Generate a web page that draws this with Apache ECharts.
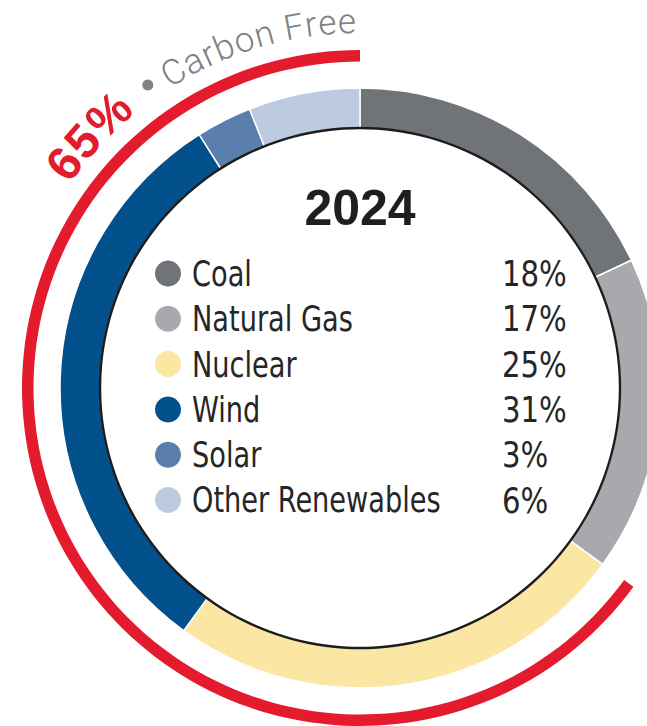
<!DOCTYPE html>
<html>
<head>
<meta charset="utf-8">
<title>2024 Generation Mix</title>
<script src="https://cdn.jsdelivr.net/npm/echarts@6/dist/echarts.min.js"></script>
<style>
  html, body { margin: 0; padding: 0; background: #ffffff; }
  #chart { width: 647px; height: 726px; }
</style>
</head>
<body>
<div id="chart"></div>
<script>
// Generation sources, clockwise from 12 o'clock
const sources = ['Coal', 'Natural Gas', 'Nuclear', 'Wind', 'Solar', 'Other Renewables'];
const shares = [18, 17, 25, 31, 3, 6];
const sourceColors = ['#707378', '#a7a9ac', '#fbe6a4', '#02508c', '#5b7fad', '#bdcbe0'];
const carbonFreeSources = ['Nuclear', 'Wind', 'Solar', 'Other Renewables'];
const yearLabel = '2024';
const captionText = 'Carbon Free';

const carbonFree = sources.reduce((s, name, i) =>
  carbonFreeSources.includes(name) ? s + shares[i] : s, 0);
const total = shares.reduce((a, b) => a + b, 0);

const CX = 360, CY = 388;
const RING = [260, 300];
const OUTLINE = [258.8, 261.2];
const ARC = [326.5, 338];
const CAPTION_R = 354;          // baseline radius of the curved caption

const condensed = '"DejaVu Sans Condensed", "DejaVu Sans", sans-serif';
const textColor = '#262626';
const red = '#e31b2d';
const grey = '#7f8184';
const DEG = Math.PI / 180;

const measureCtx = document.createElement('canvas').getContext('2d');
function measure(ch, font) { measureCtx.font = font; return measureCtx.measureText(ch).width; }

// Lay a string along the circle, from startDeg to endDeg (clockwise from top).
// If endDeg is given, the letter spacing is stretched to fill the span.
function arcText(text, font, size, color, startDeg, endDeg, spacing) {
  const chars = [...text];
  const widths = chars.map(ch => measure(ch, font));
  const raw = widths.reduce((a, b) => a + b, 0);
  let gap = spacing || 0;
  if (endDeg !== undefined) {
    gap = ((endDeg - startDeg) * DEG * CAPTION_R - raw) / (chars.length - 1);
  }
  let a = startDeg * DEG;
  const r = CAPTION_R + size * 0.36;
  return chars.map((ch, i) => {
    const mid = a + widths[i] / 2 / CAPTION_R;
    a += (widths[i] + gap) / CAPTION_R;
    return {
      type: 'text', silent: true,
      x: CX + r * Math.sin(mid), y: CY - r * Math.cos(mid),
      rotation: -mid,
      style: { text: ch, font, fill: color, align: 'center', verticalAlign: 'middle' }
    };
  });
}

function polar(deg, r) {
  return [CX + r * Math.sin(deg * DEG), CY - r * Math.cos(deg * DEG)];
}

const bulletPos = polar(-35, 370);
const captionGraphics = [
  ...arcText(carbonFree + '%', 'bold 48px "Liberation Sans", sans-serif', 48, red, -55, undefined, 1),
  { type: 'circle', silent: true, x: bulletPos[0], y: bulletPos[1],
    shape: { r: 5.5 }, style: { fill: grey } },
  ...arcText(captionText, '300 35px Roboto, sans-serif', 35, grey, -32.4, -0.6)
];

// Key: dot, source name and share, one row per source
const ROW0 = 273.5, ROW_STEP = 45.3;
const keyGraphics = [];
sources.forEach((name, i) => {
  const y = ROW0 + i * ROW_STEP;
  keyGraphics.push(
    { type: 'circle', silent: true, x: 168, y, shape: { r: 13 },
      style: { fill: sourceColors[i] } },
    { type: 'text', silent: true, x: 192, y, scaleX: 0.84,
      style: { text: name, font: '36px ' + condensed, fill: textColor,
               align: 'left', verticalAlign: 'middle' } },
    { type: 'text', silent: true, x: 502, y, scaleX: 0.9,
      style: { text: shares[i] + '%', font: '36px ' + condensed, fill: textColor,
               align: 'left', verticalAlign: 'middle' } }
  );
});

const chart = echarts.init(document.getElementById('chart'), null, { renderer: 'svg' });

chart.setOption({
  animation: false,
  backgroundColor: '#ffffff',
  series: [
    {
      name: 'Generation',
      type: 'pie',
      center: [CX, CY],
      radius: RING,
      startAngle: 90,
      clockwise: true,
      silent: true,
      label: { show: false },
      labelLine: { show: false },
      itemStyle: { borderColor: '#ffffff', borderWidth: 1.5 },
      data: sources.map((name, i) => ({
        name, value: shares[i], itemStyle: { color: sourceColors[i] }
      }))
    },
    {
      name: 'Outline',
      type: 'pie',
      center: [CX, CY],
      radius: OUTLINE,
      silent: true,
      label: { show: false },
      labelLine: { show: false },
      data: [{ name: 'ring', value: 1, itemStyle: { color: '#1c1c1c' } }]
    },
    {
      name: 'Carbon Free',
      type: 'pie',
      center: [CX, CY],
      radius: ARC,
      startAngle: 90,
      clockwise: false,
      silent: true,
      label: { show: false },
      labelLine: { show: false },
      data: [
        { name: 'carbon-free', value: carbonFree, itemStyle: { color: red } },
        { name: 'emitting', value: total - carbonFree, itemStyle: { color: 'rgba(0,0,0,0)' } }
      ]
    }
  ],
  graphic: [
    {
      type: 'text', silent: true,
      x: CX, y: 208,
      style: { text: yearLabel, font: 'bold 50px "Liberation Sans", sans-serif',
               fill: '#1f1f1f', align: 'center', verticalAlign: 'middle' }
    },
    ...keyGraphics,
    ...captionGraphics
  ]
});
</script>
</body>
</html>
